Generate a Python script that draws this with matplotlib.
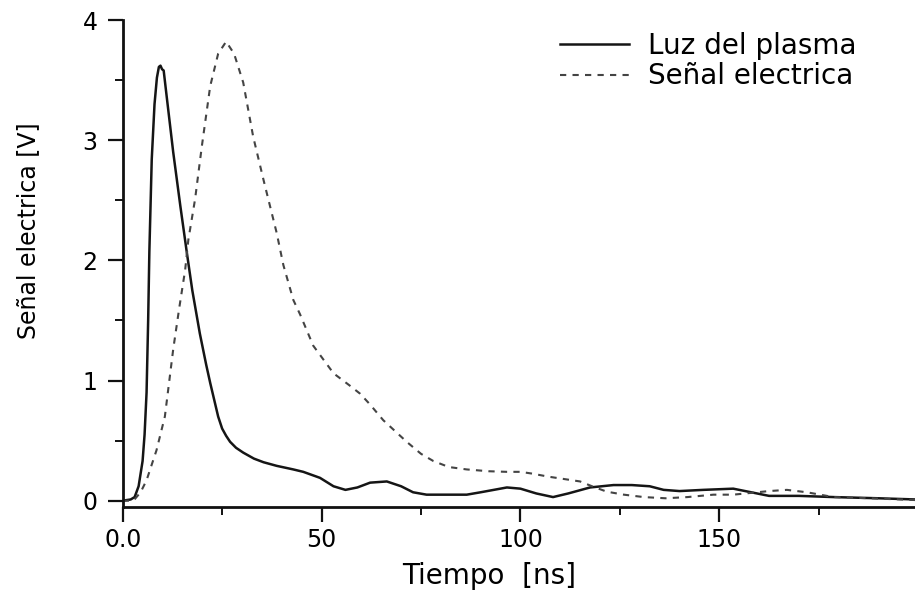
import matplotlib
matplotlib.use("Agg")
import matplotlib.pyplot as plt
from matplotlib.ticker import FixedLocator, FixedFormatter, MultipleLocator

# Luz del plasma (solid)
t_luz = [0, 2, 3, 4, 5, 5.5, 6.0, 6.4, 6.7, 7.3, 8.0, 8.6, 9.1, 9.5, 9.9, 10.3,
         11, 12.7, 14.5, 16.1, 17.5, 19.4, 21, 22, 23, 24, 25, 26, 27, 28.5,
         30.3, 33, 35.4, 38.7, 42.9, 45.4, 49.6, 53, 56, 59, 62.2, 66.4, 70,
         73, 76.4, 82, 86.5, 90, 96.6, 100, 104, 108.2, 112, 117.5, 123.4,
         128, 132.5, 136, 140, 146, 153.5, 158, 162.5, 170, 178.7, 190, 199.5]
v_luz = [0.0, 0.01, 0.03, 0.12, 0.33, 0.55, 0.9, 1.5, 2.07, 2.84, 3.3, 3.52,
         3.61, 3.62, 3.59, 3.58, 3.38, 2.9, 2.45, 2.07, 1.75, 1.39, 1.13,
         0.98, 0.84, 0.70, 0.60, 0.54, 0.49, 0.44, 0.40, 0.35, 0.32, 0.29,
         0.26, 0.24, 0.19, 0.12, 0.09, 0.11, 0.15, 0.16, 0.12, 0.07, 0.05,
         0.05, 0.05, 0.07, 0.11, 0.10, 0.06, 0.03, 0.06, 0.11, 0.13, 0.13,
         0.12, 0.09, 0.08, 0.09, 0.10, 0.07, 0.04, 0.04, 0.03, 0.02, 0.01]

# Señal electrica (dashed)
t_sen = [0, 2.7, 4.5, 6.0, 8.5, 10.6, 12.7, 14.2, 15.7, 16.5, 18.2, 19.9, 22,
         24, 26, 28, 30.3, 32.8, 35.4, 38.7, 40.4, 42.9, 44.6, 47.9, 53, 57,
         59.7, 62.2, 65.5, 71.4, 75, 78.1, 82, 86.5, 92, 96.6, 100, 103, 107,
         111, 115, 118, 121.7, 126, 131, 136.5, 142, 148.5, 153.5, 158, 162.5,
         167, 172, 178.7, 188, 199.5]
v_sen = [0.0, 0.0, 0.07, 0.17, 0.42, 0.70, 1.26, 1.6, 1.92, 2.17, 2.51, 2.95,
         3.45, 3.72, 3.82, 3.72, 3.48, 3.03, 2.67, 2.23, 1.96, 1.67, 1.55,
         1.29, 1.06, 0.96, 0.89, 0.80, 0.67, 0.49, 0.39, 0.33, 0.28, 0.26,
         0.245, 0.24, 0.24, 0.225, 0.20, 0.18, 0.16, 0.12, 0.075, 0.05, 0.03,
         0.02, 0.03, 0.05, 0.05, 0.065, 0.08, 0.09, 0.07, 0.03, 0.02, 0.005]

x_ticks = [0, 50, 100, 150]
x_labels = ["0.0", "50", "100", "150"]
y_ticks = [0, 1, 2, 3, 4]

plt.rcParams['font.family'] = ['DejaVu Sans']

fig = plt.figure(figsize=(9.15, 5.92), dpi=100)
ax = fig.add_axes([0.1341, 0.1436, 0.8659, 0.8226])

ax.plot(t_luz, v_luz, color='#151515', lw=1.8, label='Luz del plasma')
ax.plot(t_sen, v_sen, color='#444444', lw=1.5, dashes=(3, 3),
        label='Señal electrica')

ax.set_xlim(0, 199.2)
ax.set_ylim(-0.0525, 4.0)

ax.xaxis.set_major_locator(FixedLocator(x_ticks))
ax.xaxis.set_major_formatter(FixedFormatter(x_labels))
ax.xaxis.set_minor_locator(MultipleLocator(25))
ax.yaxis.set_major_locator(FixedLocator(y_ticks))
ax.yaxis.set_minor_locator(MultipleLocator(0.5))

for s in ['top', 'right']:
    ax.spines[s].set_visible(False)
for s in ['left', 'bottom']:
    ax.spines[s].set_linewidth(2)
    ax.spines[s].set_color('#111111')

ax.tick_params(which='major', direction='out', length=11, width=1.6,
               labelsize=17, color='#111111', pad=7)
ax.tick_params(axis='x', which='major', pad=4)
ax.tick_params(which='minor', direction='out', length=6, width=1.4,
               color='#111111')

fig.text(0.535, 0.004, 'Tiempo  [ns]', fontsize=20, ha='center',
         va='bottom')
fig.text(0.031, 0.61, 'Señal electrica [V]', fontsize=17, rotation=90,
         ha='center', va='center')

ax.legend(loc='upper left', bbox_to_anchor=(560 / 915, 1 - 32 / 592),
          bbox_transform=fig.transFigure, frameon=False, fontsize=20,
          handlelength=2.5, handletextpad=0.65, labelspacing=0.08,
          borderaxespad=0, borderpad=0)

fig.savefig('out.png', dpi=100)
